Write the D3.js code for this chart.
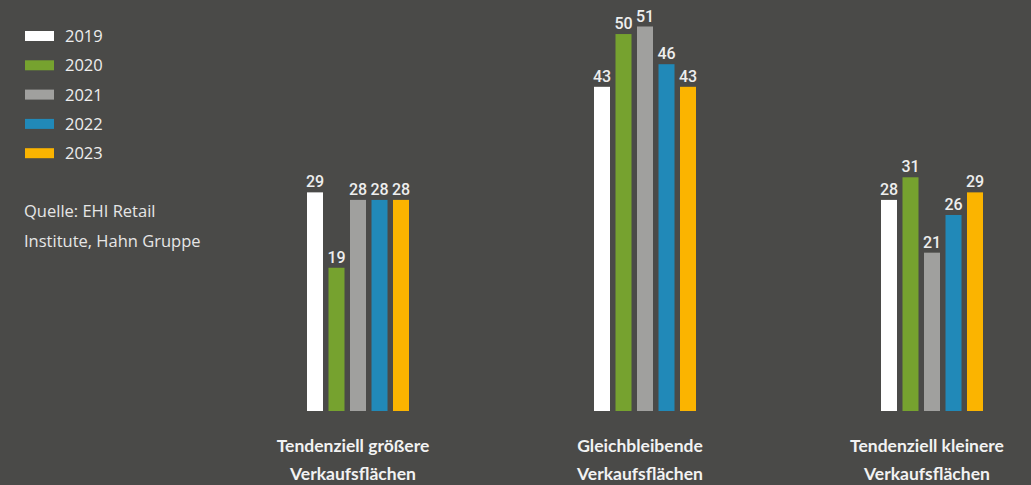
<!DOCTYPE html>
<html>
<head>
<meta charset="utf-8">
<script src="https://cdn.jsdelivr.net/npm/d3@7"></script>
<style>
    body { margin: 0; background: #4a4a48; }
    #wrapper { width: 1031px; height: 485px; }
</style>
</head>
<body>
<div id="wrapper"></div>
<script>
const categories = [
    ["Tendenziell größere", "Verkaufsflächen"],
    ["Gleichbleibende", "Verkaufsflächen"],
    ["Tendenziell kleinere", "Verkaufsflächen"]
]
const years = ["2019", "2020", "2021", "2022", "2023"]
const colors = ["#ffffff", "#76a22f", "#a0a09e", "#2189b8", "#fbb400"]
const values = [
    [29, 43, 28],   // 2019
    [19, 50, 31],   // 2020
    [28, 51, 21],   // 2021
    [28, 46, 26],   // 2022
    [28, 43, 29]    // 2023
]
const source = ["Quelle: EHI Retail", "Institute, Hahn Gruppe"]

const width = 1031, height = 485
const baseline = 411

const svg = d3.select("#wrapper")
    .append("svg")
    .attr("width", width)
    .attr("height", height)

// group centres
const x = d3.scalePoint()
    .domain(d3.range(categories.length))
    .range([358, 932])

// bars inside a group
const xYear = d3.scaleBand()
    .domain(years)
    .range([-51, 51])
    .paddingInner(0.256)

const y = d3.scaleLinear()
    .domain([0, 51])
    .range([baseline, 26.5])

const dataset = []
years.forEach(function(yr, i) {
    values[i].forEach(function(v, c) {
        dataset.push({year: yr, cat: c, value: v, color: colors[i]})
    })
})

svg.selectAll(".bar")
    .data(dataset)
    .enter()
    .append("rect")
        .attr("class", "bar")
        .attr("x", d => x(d.cat) + xYear(d.year))
        .attr("y", d => y(d.value))
        .attr("width", xYear.bandwidth())
        .attr("height", d => baseline - y(d.value))
        .style("fill", d => d.color)

svg.selectAll(".val")
    .data(dataset)
    .enter()
    .append("text")
        .attr("x", d => x(d.cat) + xYear(d.year) + xYear.bandwidth() / 2)
        .attr("y", d => y(d.value) - 5)
        .attr("text-anchor", "middle")
        .style("font-family", "Roboto, sans-serif")
        .style("font-weight", "500")
        .style("font-size", "16px")
        .style("fill", "#eeeeee")
        .text(d => d.value)

// category labels
const catLabels = svg.selectAll(".cat")
    .data(categories)
    .enter()
    .append("text")
        .attr("class", "cat")
        .attr("text-anchor", "middle")
        .style("font-family", "Lato, sans-serif")
        .style("font-weight", "bold")
        .style("font-size", "17.5px")
        .style("fill", "#f2f2f2")
catLabels.selectAll("tspan")
    .data((d, i) => d.map(t => ({t: t, i: i})))
    .enter()
    .append("tspan")
        .attr("x", d => x(d.i) - 5)
        .attr("y", (d, j) => 452 + j * 28)
        .text(d => d.t)

// legend
const legend = svg.selectAll(".legend")
    .data(years)
    .enter()
    .append("g")
        .attr("transform", (d, i) => `translate(25, ${36 + i * 29.3})`)
legend.append("rect")
    .attr("x", 0)
    .attr("y", -5)
    .attr("width", 29)
    .attr("height", 10)
    .style("fill", (d, i) => colors[i])
legend.append("text")
    .attr("x", 40)
    .attr("y", 6)
    .style("font-family", "'Open Sans', sans-serif")
    .style("font-size", "16.5px")
    .style("fill", "#eeeeee")
    .text(d => d)

svg.selectAll(".source")
    .data(source)
    .enter()
    .append("text")
        .attr("x", 24)
        .attr("y", (d, i) => 217 + i * 30)
        .style("font-family", "'Open Sans', sans-serif")
        .style("font-size", "16.5px")
        .style("fill", "#e6e6e6")
        .text(d => d)
</script>
</body>
</html>
